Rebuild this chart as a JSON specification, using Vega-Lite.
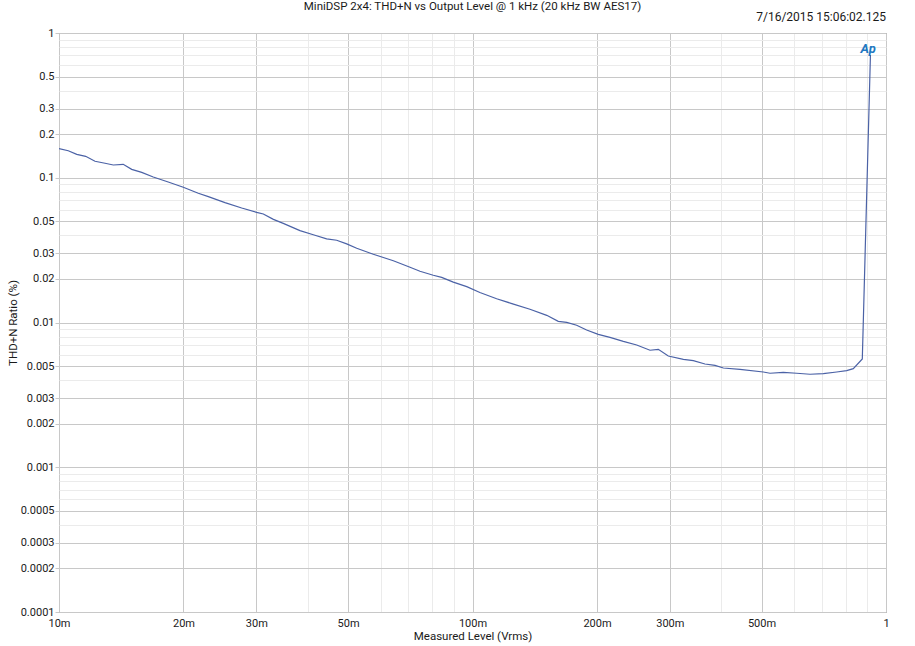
{
  "$schema": "https://vega.github.io/schema/vega-lite/v6.json",
  "width": 827,
  "height": 579,
  "autosize": {"type": "none"},
  "padding": {"left": 59, "top": 33, "right": 29, "bottom": 34},
  "background": "white",
  "config": {
    "view": {"stroke": "#767676", "strokeWidth": 1},
    "font": "Roboto",
    "axis": {
      "labelFont": "Roboto",
      "labelFontSize": 11,
      "labelColor": "#1a1a1a",
      "titleFont": "Roboto",
      "titleFontSize": 11.5,
      "titleFontWeight": "normal",
      "titleColor": "#1a1a1a",
      "domain": false,
      "labelOverlap": false,
      "labelFlush": false,
      "gridWidth": 1
    }
  },
  "datasets": {
    "thd": [
      {"level": 0.01, "thdn": 0.159},
      {"level": 0.01053, "thdn": 0.1537},
      {"level": 0.01104, "thdn": 0.1452},
      {"level": 0.0116, "thdn": 0.1406},
      {"level": 0.01222, "thdn": 0.130},
      {"level": 0.01292, "thdn": 0.1259},
      {"level": 0.01353, "thdn": 0.1225},
      {"level": 0.0143, "thdn": 0.1239},
      {"level": 0.01499, "thdn": 0.1143},
      {"level": 0.01585, "thdn": 0.109},
      {"level": 0.0169, "thdn": 0.1012},
      {"level": 0.01837, "thdn": 0.0935},
      {"level": 0.01998, "thdn": 0.0859},
      {"level": 0.02172, "thdn": 0.0781},
      {"level": 0.02297, "thdn": 0.0740},
      {"level": 0.0252, "thdn": 0.0673},
      {"level": 0.02766, "thdn": 0.0618},
      {"level": 0.03006, "thdn": 0.0577},
      {"level": 0.0312, "thdn": 0.0562},
      {"level": 0.033, "thdn": 0.0516},
      {"level": 0.03486, "thdn": 0.0484},
      {"level": 0.03826, "thdn": 0.0431},
      {"level": 0.04121, "thdn": 0.0404},
      {"level": 0.04439, "thdn": 0.0378},
      {"level": 0.04694, "thdn": 0.0370},
      {"level": 0.04963, "thdn": 0.0349},
      {"level": 0.05248, "thdn": 0.0326},
      {"level": 0.05755, "thdn": 0.0296},
      {"level": 0.06435, "thdn": 0.0267},
      {"level": 0.07062, "thdn": 0.0241},
      {"level": 0.07464, "thdn": 0.0226},
      {"level": 0.08038, "thdn": 0.0212},
      {"level": 0.08423, "thdn": 0.0205},
      {"level": 0.08985, "thdn": 0.0190},
      {"level": 0.09683, "thdn": 0.0177},
      {"level": 0.1042, "thdn": 0.0161},
      {"level": 0.1144, "thdn": 0.0146},
      {"level": 0.1256, "thdn": 0.0134},
      {"level": 0.1377, "thdn": 0.01234},
      {"level": 0.1512, "thdn": 0.01121},
      {"level": 0.1612, "thdn": 0.01019},
      {"level": 0.169, "thdn": 0.01003},
      {"level": 0.1786, "thdn": 0.00957},
      {"level": 0.1888, "thdn": 0.00888},
      {"level": 0.2014, "thdn": 0.00828},
      {"level": 0.215, "thdn": 0.0079},
      {"level": 0.2316, "thdn": 0.00741},
      {"level": 0.2495, "thdn": 0.00699},
      {"level": 0.2687, "thdn": 0.00643},
      {"level": 0.2814, "thdn": 0.00653},
      {"level": 0.2975, "thdn": 0.00587},
      {"level": 0.3236, "thdn": 0.00557},
      {"level": 0.342, "thdn": 0.00545},
      {"level": 0.3649, "thdn": 0.00517},
      {"level": 0.3859, "thdn": 0.00506},
      {"level": 0.4043, "thdn": 0.00485},
      {"level": 0.4435, "thdn": 0.00475},
      {"level": 0.5051, "thdn": 0.00455},
      {"level": 0.5242, "thdn": 0.00446},
      {"level": 0.5644, "thdn": 0.00453},
      {"level": 0.6081, "thdn": 0.00446},
      {"level": 0.6549, "thdn": 0.00439},
      {"level": 0.7054, "thdn": 0.00443},
      {"level": 0.7599, "thdn": 0.00455},
      {"level": 0.8034, "thdn": 0.00465},
      {"level": 0.8335, "thdn": 0.0048},
      {"level": 0.8764, "thdn": 0.0056},
      {"level": 0.917, "thdn": 0.705}
    ],
    "stamp": [
      {"level": 1, "thdn": 1, "label": "7/16/2015 15:06:02.125"}
    ],
    "heading": [
      {"level": 0.1, "thdn": 1, "label": "MiniDSP 2x4: THD+N vs Output Level @ 1 kHz (20 kHz BW AES17)"}
    ],
    "logo": [
      {"level": 0.905, "thdn": 0.775, "label": "Ap"}
    ]
  },
  "layer": [
    {
      "data": {"name": "thd"},
      "mark": {"type": "line", "color": "#4b62a6", "strokeWidth": 1.2, "clip": true},
      "encoding": {
        "x": {
          "field": "level",
          "type": "quantitative",
          "scale": {"type": "log", "domain": [0.01, 1], "nice": false},
          "axis": {
            "title": "Measured Level (Vrms)",
            "titlePadding": 2,
            "values": [0.01, 0.02, 0.03, 0.04, 0.05, 0.06, 0.07, 0.08, 0.09, 0.1, 0.2, 0.3, 0.4, 0.5, 0.6, 0.7, 0.8, 0.9, 1],
            "labelExpr": "indexof([10,20,30,50,100,200,300,500], round(datum.value*1000)) >= 0 ? round(datum.value*1000) + 'm' : (datum.value == 1 ? '1' : '')",
            "ticks": false,
            "labelPadding": 5,
            "gridColor": {"condition": {"test": "indexof([10,20,30,50,100,200,300,500,1000], round(datum.value*1000)) >= 0", "value": "#c8c8c8"}, "value": "#ebebeb"}
          }
        },
        "y": {
          "field": "thdn",
          "type": "quantitative",
          "scale": {"type": "log", "domain": [0.0001, 1], "nice": false},
          "axis": {
            "title": "THD+N Ratio (%)",
            "titlePadding": 2,
            "values": [0.0001, 0.0002, 0.0003, 0.0004, 0.0005, 0.0006, 0.0007, 0.0008, 0.0009, 0.001, 0.002, 0.003, 0.004, 0.005, 0.006, 0.007, 0.008, 0.009, 0.01, 0.02, 0.03, 0.04, 0.05, 0.06, 0.07, 0.08, 0.09, 0.1, 0.2, 0.3, 0.4, 0.5, 0.6, 0.7, 0.8, 0.9, 1],
            "labelExpr": "indexof([1,2,3,5], round(datum.value / pow(10, floor(log(datum.value)/LN10 + 1e-9)))) >= 0 ? format(datum.value, '~g') : ''",
            "ticks": true,
            "tickSize": 4,
            "tickColor": {"condition": {"test": "indexof([1,2,3,5], round(datum.value / pow(10, floor(log(datum.value)/LN10 + 1e-9)))) >= 0", "value": "#c8c8c8"}, "value": "transparent"},
            "labelPadding": 1,
            "gridColor": {"condition": {"test": "indexof([1,2,3,5], round(datum.value / pow(10, floor(log(datum.value)/LN10 + 1e-9)))) >= 0", "value": "#c8c8c8"}, "value": "#ebebeb"}
          }
        }
      }
    },
    {
      "data": {"name": "heading"},
      "mark": {"type": "text", "align": "center", "baseline": "middle", "dy": -26, "font": "Roboto", "fontSize": 11.5, "color": "#1a1a1a"},
      "encoding": {
        "x": {"field": "level", "type": "quantitative"},
        "y": {"field": "thdn", "type": "quantitative"},
        "text": {"field": "label"}
      }
    },
    {
      "data": {"name": "stamp"},
      "mark": {"type": "text", "align": "right", "baseline": "middle", "dy": -16, "font": "Roboto", "fontSize": 12, "color": "#1a1a1a"},
      "encoding": {
        "x": {"field": "level", "type": "quantitative"},
        "y": {"field": "thdn", "type": "quantitative"},
        "text": {"field": "label"}
      }
    },
    {
      "data": {"name": "logo"},
      "mark": {"type": "text", "align": "center", "baseline": "middle", "font": "Roboto", "fontSize": 13, "fontStyle": "italic", "fontWeight": "bold", "color": "#1f78c1"},
      "encoding": {
        "x": {"field": "level", "type": "quantitative"},
        "y": {"field": "thdn", "type": "quantitative"},
        "text": {"field": "label"}
      }
    }
  ]
}
